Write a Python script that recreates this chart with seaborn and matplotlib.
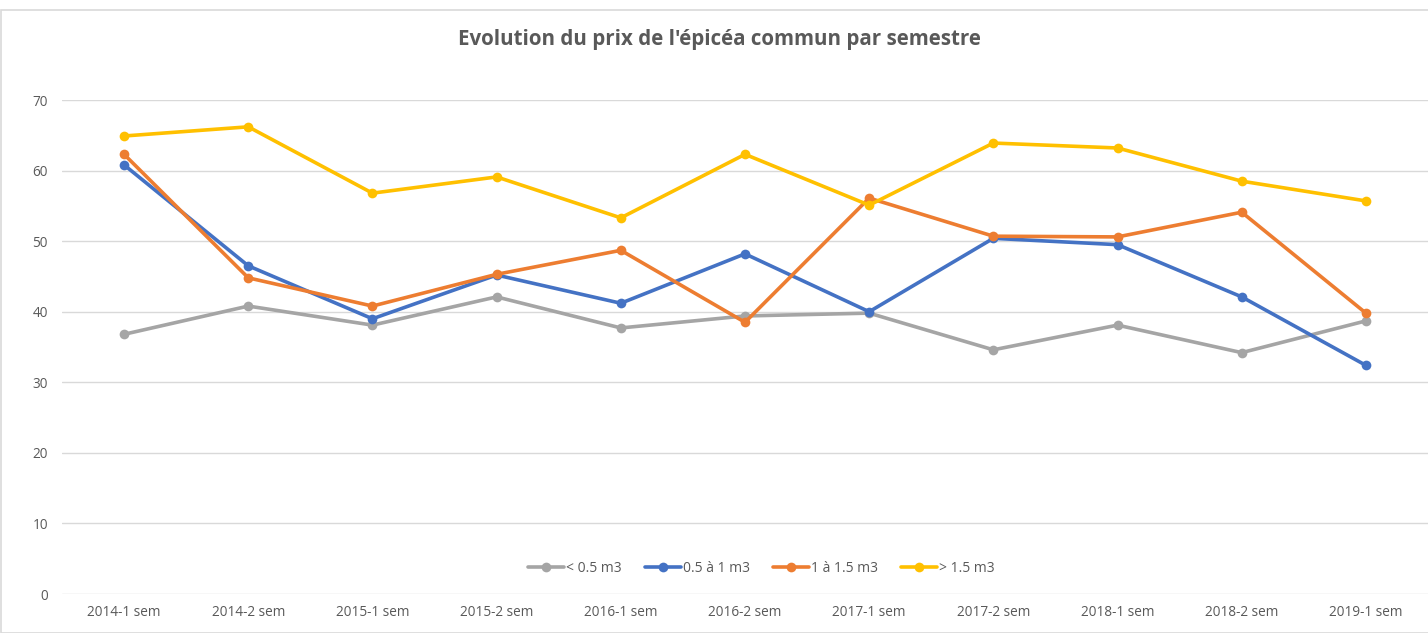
import matplotlib.pyplot as plt
import seaborn as sns
import pandas as pd
from matplotlib.patches import Rectangle

# données
semestres = ["2014-1 sem", "2014-2 sem", "2015-1 sem", "2015-2 sem", "2016-1 sem",
             "2016-2 sem", "2017-1 sem", "2017-2 sem", "2018-1 sem", "2018-2 sem",
             "2019-1 sem"]
moins_05 = [36.8, 40.8, 38.1, 42.1, 37.7, 39.4, 39.8, 34.6, 38.1, 34.2, 38.7]
de_05_a_1 = [60.8, 46.5, 39.0, 45.2, 41.2, 48.2, 40.0, 50.4, 49.5, 42.1, 32.4]
de_1_a_15 = [62.3, 44.8, 40.8, 45.3, 48.7, 38.5, 56.1, 50.7, 50.6, 54.1, 39.8]
plus_15 = [64.9, 66.2, 56.8, 59.1, 53.3, 62.3, 55.1, 63.9, 63.2, 58.5, 55.7]

series = ["< 0.5 m3", "0.5 à 1 m3", "1 à 1.5 m3", "> 1.5 m3"]
couleurs = ["#A5A5A5", "#4472C4", "#ED7D31", "#FFC000"]

df = pd.DataFrame({
    "semestre": semestres * 4,
    "pos": list(range(len(semestres))) * 4,
    "prix": moins_05 + de_05_a_1 + de_1_a_15 + plus_15,
    "classe": [s for s in series for _ in semestres],
})

sns.set_theme(style="white")
plt.rcParams['font.family'] = ['Open Sans', 'DejaVu Sans']

fig = plt.figure(figsize=(14.28, 6.33), dpi=100)
ax = fig.add_axes([62 / 1428, 1 - 594 / 633, 1 - 62 / 1428, (594 - 100) / 633])

# cadre gris autour du graphique
fig.patches.append(Rectangle((1 / 1428, 0), 1.0, 1 - 10 / 633, transform=fig.transFigure,
                             fill=False, edgecolor="#D9D9D9", linewidth=1.2))

sns.lineplot(data=df, x="pos", y="prix", hue="classe", hue_order=series,
             palette=couleurs, marker="o", markersize=7, markeredgewidth=0,
             linewidth=2.6, ax=ax, legend=False)

ax.set_ylim(0, 70)
ax.set_xlim(-0.5, 10.5)
ax.set_yticks(range(0, 71, 10))
ax.set_xticks(range(len(semestres)))
ax.set_xticklabels(semestres)
ax.yaxis.grid(True, color="#D9D9D9", linewidth=1)
ax.xaxis.grid(False)
for sp in ax.spines.values():
    sp.set_visible(False)
ax.tick_params(axis="both", length=0, labelsize=9.8, labelcolor="#595959")
ax.tick_params(axis="y", pad=10)
ax.tick_params(axis="x", pad=8)
ax.set_xlabel("")
ax.set_ylabel("")

handles = [plt.Line2D([], [], color=c, marker="o", markersize=7, markeredgewidth=0, linewidth=2.6)
           for c in couleurs]
leg = ax.legend(handles, series, loc="center", bbox_to_anchor=(0.512, 0.052), ncol=4,
                frameon=False, fontsize=10, handlelength=2.6, handletextpad=0.1,
                columnspacing=1.7)
for t in leg.get_texts():
    t.set_color("#595959")

fig.text(0.504, 1 - 40 / 633, "Evolution du prix de l'épicéa commun par semestre",
         ha="center", va="center", fontsize=14.8, fontweight="bold", color="#595959")

fig.savefig("out.png", dpi=100)
